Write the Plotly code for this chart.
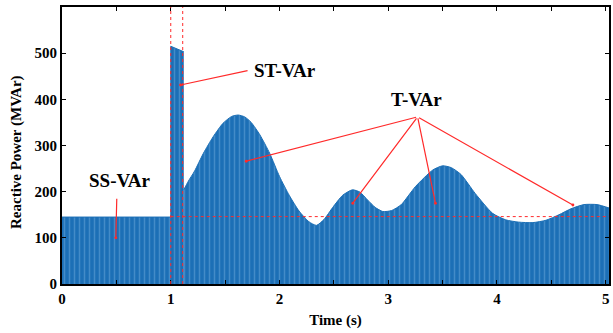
import plotly.graph_objects as go

# Steady-state part
t_ss = [0.0, 1.0]
q_ss = [145, 145]
# Short-term spike
t_st = [1.0, 1.12]
q_st = [515, 503]
# Transient part
t_tv = [1.12, 1.16, 1.22, 1.30, 1.39, 1.48, 1.56, 1.62, 1.68, 1.74, 1.82, 1.91,
        2.00, 2.09, 2.18, 2.27, 2.34, 2.41, 2.49, 2.58, 2.67, 2.74, 2.81, 2.88,
        2.95, 3.03, 3.12, 3.25, 3.41, 3.50, 3.58, 3.67, 3.80, 3.96, 4.08, 4.20,
        4.33, 4.45, 4.57, 4.68, 4.80, 4.92, 5.04]
q_tv = [204, 222, 245, 283, 319, 348, 363, 366, 362, 350, 323, 283,
        233, 192, 158, 135, 127, 140, 166, 192, 204, 199, 182, 166,
        157, 159, 172, 211, 247, 256, 252, 237, 196, 153, 139, 134,
        133, 138, 150, 163, 172, 172, 164]

x_ticks = [0, 0.5, 1, 1.5, 2, 2.5, 3, 3.5, 4, 4.5, 5]
x_ticktext = ["0", "", "1", "", "2", "", "3", "", "4", "", "5"]
y_ticks = [0, 100, 200, 300, 400, 500]

BLUE = "#1c6fb6"
LIGHT = "#6aa8da"
RED = "#ff2a2a"
SERIF = "Liberation Serif"

pattern = dict(shape="|", bgcolor=BLUE, fgcolor=LIGHT, size=5, solidity=0.3)

fig = go.Figure()
fig.add_trace(go.Scatter(x=t_ss + t_st, y=q_ss + q_st, mode="lines",
                         line=dict(color=BLUE, width=1), fill="tozeroy",
                         fillpattern=pattern, showlegend=False))
fig.add_trace(go.Scatter(x=t_tv, y=q_tv, mode="lines",
                         line=dict(color=BLUE, width=1, shape="spline", smoothing=0.6),
                         fill="tozeroy", fillpattern=pattern, showlegend=False))

# reference dashed lines
for xv in [1.0, 1.11]:
    fig.add_shape(type="line", x0=xv, x1=xv, y0=0, y1=600, xref="x", yref="y",
                  line=dict(color=RED, width=1, dash="dot"))
fig.add_shape(type="line", x0=1.0, x1=5.04, y0=146, y1=146, xref="x", yref="y",
              line=dict(color=RED, width=1, dash="dot"))

tfont = dict(family=SERIF, size=19, color="black", weight="bold")

# SS-VAr
fig.add_annotation(x=0.53, y=224, text="SS-VAr", showarrow=False, font=tfont)
fig.add_annotation(x=0.495, y=100, ax=0.504, ay=188, axref="x", ayref="y",
                   text="", showarrow=True, arrowhead=6, arrowsize=0.6,
                   arrowwidth=1.2, arrowcolor=RED)
# ST-VAr
fig.add_annotation(x=2.05, y=462, text="ST-VAr", showarrow=False, font=tfont)
fig.add_annotation(x=1.09, y=431, ax=1.72, ay=463, axref="x", ayref="y",
                   text="", showarrow=True, arrowhead=6, arrowsize=0.6,
                   arrowwidth=1.2, arrowcolor=RED)
# T-VAr
fig.add_annotation(x=3.26, y=400, text="T-VAr", showarrow=False, font=tfont)
apex = (3.27, 362)
for tx, ty in [(1.694, 266), (2.674, 175), (3.434, 175), (4.698, 171)]:
    fig.add_annotation(x=tx, y=ty, ax=apex[0], ay=apex[1], axref="x", ayref="y",
                       text="", showarrow=True, arrowhead=6, arrowsize=0.6,
                       arrowwidth=1.2, arrowcolor=RED)

axfont = dict(family=SERIF, size=15, color="black", weight="bold")

# y-axis title placed as rotated annotation
fig.add_annotation(text="Reactive Power (MVAr)", textangle=-90, xref="paper", yref="paper",
                   x=-0.082, y=0.477, xanchor="center", yanchor="middle",
                   showarrow=False, font=axfont)

fig.update_xaxes(range=[0, 5.03], tickvals=x_ticks, ticktext=x_ticktext,
                 ticks="inside", ticklen=4, tickcolor="black",
                 showline=True, linecolor="black", linewidth=2, mirror="ticks",
                 showgrid=False, zeroline=False, tickfont=axfont,
                 title=dict(text="Time (s)", font=axfont, standoff=8))
fig.update_yaxes(range=[0, 600], tickvals=y_ticks,
                 ticks="inside", ticklen=4, tickcolor="black",
                 showline=True, linecolor="black", linewidth=2, mirror="ticks",
                 showgrid=False, zeroline=False, tickfont=axfont)
fig.update_layout(width=613, height=333, margin=dict(l=62, r=2, t=7, b=49),
                  plot_bgcolor="white", paper_bgcolor="white")

fig.write_html("out.html")
